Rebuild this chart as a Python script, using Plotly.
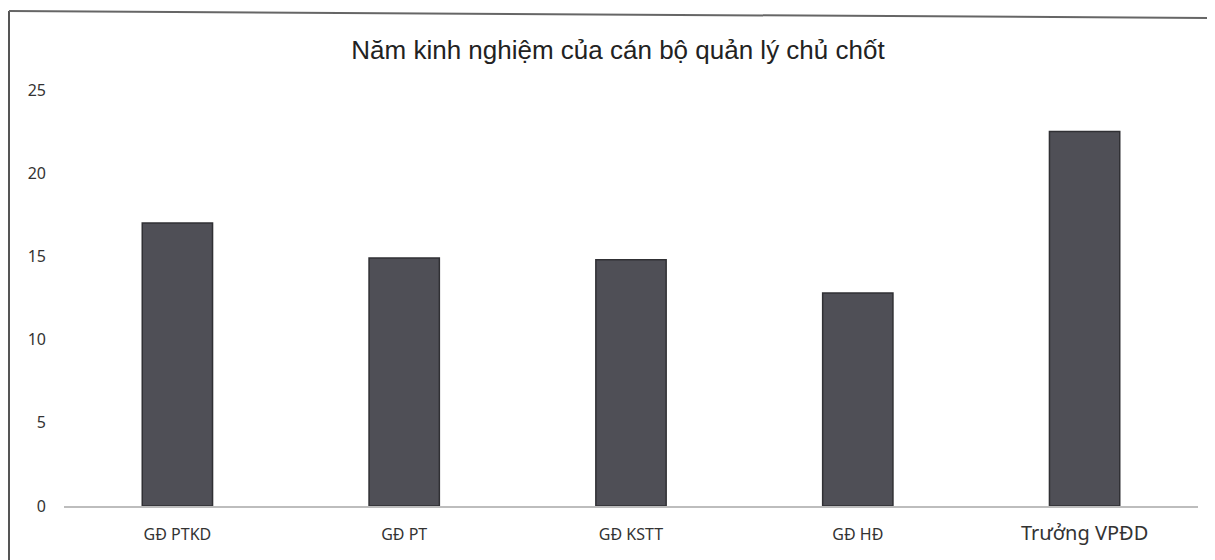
import plotly.graph_objects as go

categories = ["GĐ PTKD", "GĐ PT", "GĐ KSTT", "GĐ HĐ", "Trưởng VPĐD"]
values = [17, 14.9, 14.8, 12.8, 22.5]
y_ticks = [0, 5, 10, 15, 20, 25]
title_text = "Năm kinh nghiệm của cán bộ quản lý chủ chốt"

# page is offset by 8px body margin; work in figure coords
W, H = 1207, 552
ml, mr, mt, mb = 56, 17, 82, 54
pw, ph = W - ml - mr, H - mt - mb

def px_x(x):
    return (x - ml) / pw

def px_y(y):
    return (H - mb - y) / ph

tick_text = [c if c != "Trưởng VPĐD" else "<span style='font-size:20px'>Trưởng VPĐD</span>"
             for c in categories]

fig = go.Figure()
fig.add_trace(go.Bar(
    x=categories, y=values, width=0.31,
    marker=dict(color="#4f4f56", line=dict(color="#303034", width=1.5)),
    hoverinfo="x+y",
))

fig.update_layout(
    width=W, height=H,
    margin=dict(l=ml, r=mr, t=mt, b=mb),
    paper_bgcolor="white", plot_bgcolor="white",
    showlegend=False,
    title=dict(text=title_text, x=610 / W, xanchor="center", y=1 - 42 / H, yanchor="middle",
               font=dict(family="Liberation Sans, Arial", size=26, color="#222222")),
    xaxis=dict(showline=True, linecolor="#bdbdbd", linewidth=1.5, ticks="",
               tickvals=categories, ticktext=tick_text, ticklabelstandoff=13,
               tickfont=dict(family="Noto Sans, Open Sans", size=16, color="#333333"),
               showgrid=False, zeroline=False),
    yaxis=dict(range=[0, 25], tickvals=y_ticks, showgrid=False, zeroline=False, showline=False,
               ticks="", ticklabelstandoff=17,
               tickfont=dict(family="Noto Sans, Open Sans", size=16, color="#333333")),
    shapes=[
        dict(type="line", xref="paper", yref="paper", x0=px_x(1), x1=px_x(1), y0=px_y(3), y1=px_y(H),
             line=dict(color="#555555", width=2)),
        dict(type="line", xref="paper", yref="paper", x0=px_x(1), x1=px_x(W), y0=px_y(3), y1=px_y(10),
             line=dict(color="#666666", width=2)),
    ],
)

fig.write_html("out.html")
